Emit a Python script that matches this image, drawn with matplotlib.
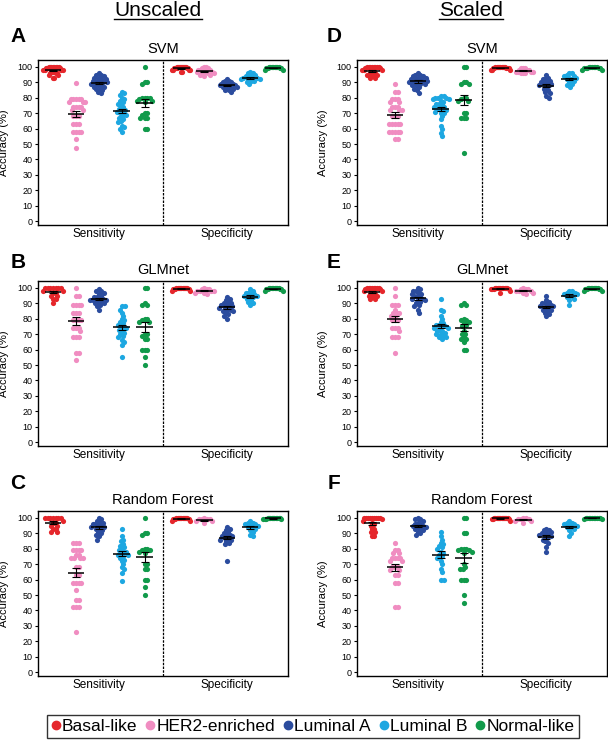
import numpy as np
import matplotlib
matplotlib.use('Agg')
import matplotlib.pyplot as plt
from matplotlib.lines import Line2D

plt.rcParams['font.family'] = ['Liberation Sans', 'DejaVu Sans']

subtypes = ['Basal-like', 'HER2-enriched', 'Luminal A', 'Luminal B', 'Normal-like']
colors = ['#E5262B', '#F08DC1', '#2B4C9E', '#1DA7E1', '#119A4B']
measures = ['Sensitivity', 'Specificity']

# each list: [Basal-like, HER2-enriched, Luminal A, Luminal B, Normal-like], accuracy (%)
svm_unscaled_sens = [
    [100, 100, 100, 100, 100, 100, 100, 100, 99, 99, 99, 98, 98, 98, 98, 97, 97, 97, 96, 96, 96, 95, 95, 93, 93],
    [89.5, 79, 79, 79, 79, 79, 77, 77, 77, 74, 74, 74, 74, 72, 72, 68, 68, 68, 63, 63, 63, 58, 58, 58, 58, 53, 47.5],
    [96, 95, 95, 94, 93, 93, 92, 92, 91, 91, 90, 90, 90, 89, 89, 88, 88, 87, 87, 86, 86, 85, 84, 83],
    [84, 83, 82, 80, 79, 78, 77, 76, 75, 74, 73, 72, 72, 71, 70, 70, 69, 68, 67, 66, 65, 64, 62, 61, 60, 58],
    [100, 90, 90, 89, 80, 80, 80, 80, 79, 78, 78, 77, 70, 70, 69, 67, 67, 67, 60, 60],
]
svm_unscaled_spec = [
    [100, 100, 100, 100, 100, 100, 100, 100, 100, 100, 99, 99, 99, 99, 99, 99, 98, 98, 98, 98, 97, 97],
    [100, 100, 99, 99, 98, 98, 98, 97, 97, 97, 97, 96, 96, 96, 95, 95, 94],
    [92, 91, 91, 90, 90, 89, 89, 89, 88, 88, 88, 88, 87, 87, 87, 86, 86, 85, 85, 84],
    [97, 96, 96, 95, 94, 94, 93, 93, 93, 92, 92, 92, 91, 91, 90, 89],
    [100, 100, 100, 100, 100, 100, 100, 100, 99, 99, 99, 99, 98, 98],
]
svm_scaled_sens = [
    [100, 100, 100, 100, 100, 100, 100, 100, 99, 99, 98, 98, 98, 97, 97, 96, 96, 95, 95, 95, 94, 94, 93, 93],
    [89, 84, 84, 79, 79, 79, 77, 77, 74, 74, 74, 72, 72, 72, 68, 68, 68, 63, 63, 63, 63, 63, 58, 58, 58, 58, 58, 53, 53],
    [96, 95, 95, 94, 94, 93, 93, 92, 92, 92, 91, 91, 90, 90, 90, 89, 89, 88, 88, 87, 86, 85, 83],
    [81, 81, 80, 80, 80, 79, 79, 78, 77, 76, 76, 75, 74, 74, 73, 73, 72, 72, 71, 70, 70, 68, 66, 62, 60, 57, 55],
    [100, 100, 90, 90, 89, 89, 80, 80, 79, 78, 78, 70, 70, 67, 67, 67, 44],
]
svm_scaled_spec = [
    [100, 100, 100, 100, 100, 100, 100, 100, 100, 99, 99, 99, 99, 99, 98, 98, 98],
    [99, 99, 99, 98, 98, 98, 97, 97, 97, 97, 96, 96, 96],
    [95, 93, 92, 92, 91, 90, 90, 89, 89, 88, 88, 87, 86, 85, 84, 83, 81, 80],
    [96, 96, 95, 94, 94, 93, 93, 92, 92, 91, 90, 89, 88, 87],
    [100, 100, 100, 100, 100, 100, 99, 99, 99, 99, 99, 98, 98],
]
glm_unscaled_sens = [
    [100, 100, 100, 100, 100, 100, 100, 98, 98, 97, 97, 95, 95, 93, 93, 90],
    [100, 95, 95, 89, 89, 89, 89, 84, 84, 84, 79, 79, 79, 79, 74, 74, 74, 72, 68, 68, 68, 58, 58, 53],
    [99, 98, 98, 97, 96, 95, 94, 94, 93, 93, 92, 92, 92, 91, 91, 90, 90, 89, 88, 86],
    [88, 88, 86, 84, 82, 80, 79, 78, 77, 76, 75, 74, 74, 73, 72, 71, 70, 69, 68, 66, 65, 63, 55],
    [100, 100, 90, 89, 89, 80, 80, 79, 78, 78, 70, 70, 69, 67, 67, 60, 60, 60, 55, 50],
]
glm_unscaled_spec = [
    [100, 100, 100, 100, 100, 100, 100, 100, 100, 100, 99, 99, 99, 99, 98, 98],
    [100, 99, 99, 99, 98, 98, 98, 98, 97, 97, 96],
    [94, 93, 92, 91, 90, 90, 89, 89, 88, 88, 87, 87, 86, 86, 85, 85, 84, 83, 82, 80],
    [99, 98, 97, 97, 96, 96, 95, 95, 94, 94, 93, 92, 91, 90, 89],
    [100, 100, 100, 100, 100, 100, 100, 100, 99, 99, 99, 99, 98, 98],
]
glm_scaled_sens = [
    [100, 100, 100, 100, 100, 100, 100, 100, 99, 99, 98, 98, 97, 97, 96, 96, 95, 95, 94, 94, 93, 93],
    [100, 95, 89, 89, 89, 86, 84, 84, 84, 82, 82, 79, 79, 79, 74, 74, 74, 72, 68, 68, 68, 58],
    [100, 99, 98, 98, 97, 96, 96, 95, 95, 94, 93, 93, 92, 92, 91, 90, 89, 88, 86, 84],
    [93, 86, 85, 82, 80, 78, 77, 76, 76, 75, 75, 74, 74, 73, 72, 72, 71, 70, 70, 69, 68, 68, 67],
    [90, 89, 89, 80, 79, 79, 78, 77, 76, 75, 72, 70, 70, 68, 67, 67, 65, 60, 60],
]
glm_scaled_spec = [
    [100, 100, 100, 100, 100, 100, 100, 100, 100, 100, 99, 99, 99, 99, 98, 97],
    [100, 99, 99, 99, 98, 98, 98, 97, 97, 96],
    [95, 92, 91, 90, 90, 89, 89, 88, 88, 87, 87, 86, 86, 85, 84, 83, 82],
    [98, 98, 97, 97, 96, 96, 95, 95, 94, 93, 92, 89],
    [100, 100, 100, 100, 100, 100, 100, 100, 99, 99, 99, 99, 98, 98],
]
rf_unscaled_sens = [
    [100, 100, 100, 100, 100, 100, 100, 98, 97, 97, 95, 95, 93, 93, 91, 91],
    [84, 84, 84, 79, 79, 79, 79, 76, 76, 74, 74, 74, 74, 68, 68, 63, 63, 58, 58, 58, 58, 53, 47, 47, 42, 42, 42, 26],
    [100, 99, 98, 97, 97, 96, 96, 95, 95, 94, 94, 93, 93, 92, 91, 90, 89, 88, 86],
    [93, 88, 86, 85, 83, 82, 81, 80, 79, 78, 78, 77, 76, 76, 75, 74, 73, 72, 70, 68, 67, 64, 59],
    [100, 90, 90, 89, 80, 80, 79, 79, 78, 77, 70, 70, 67, 67, 60, 60, 55, 50],
]
rf_unscaled_spec = [
    [100, 100, 100, 100, 100, 100, 100, 100, 100, 100, 99, 99, 99, 99, 98, 98],
    [100, 99, 99, 99, 99, 98, 98, 97],
    [94, 93, 92, 91, 90, 89, 89, 88, 88, 87, 87, 86, 86, 85, 84, 83, 72],
    [98, 97, 97, 96, 96, 95, 95, 94, 94, 93, 92, 91, 89, 88],
    [100, 100, 100, 100, 100, 100, 100, 100, 100, 100, 99, 99, 99, 99],
]
rf_scaled_sens = [
    [100, 100, 100, 100, 100, 100, 100, 100, 100, 99, 98, 97, 96, 95, 93, 93, 91, 91, 88, 88],
    [84, 79, 79, 77, 77, 74, 74, 74, 74, 72, 72, 68, 68, 68, 66, 66, 63, 63, 58, 58, 42, 42],
    [100, 99, 99, 98, 97, 96, 96, 95, 95, 94, 94, 93, 93, 92, 91, 90, 89],
    [91, 88, 86, 84, 83, 82, 81, 80, 78, 77, 76, 75, 74, 72, 70, 67, 65, 60, 60],
    [100, 100, 90, 90, 80, 80, 80, 79, 79, 78, 77, 70, 68, 67, 67, 60, 60, 60, 50, 45],
]
rf_scaled_spec = [
    [100, 100, 100, 100, 100, 100, 100, 100, 100, 100, 100, 100, 99, 99, 99, 98],
    [100, 100, 99, 99, 99, 98, 98, 97],
    [93, 92, 92, 91, 90, 90, 89, 89, 88, 88, 87, 86, 85, 84, 81, 78],
    [98, 97, 97, 96, 96, 95, 95, 94, 94, 93, 92, 90, 88],
    [100, 100, 100, 100, 100, 100, 100, 100, 100, 100, 99.5, 99.5],
]

panels = [
    ('A', 'SVM', svm_unscaled_sens, svm_unscaled_spec),
    ('B', 'GLMnet', glm_unscaled_sens, glm_unscaled_spec),
    ('C', 'Random Forest', rf_unscaled_sens, rf_unscaled_spec),
    ('D', 'SVM', svm_scaled_sens, svm_scaled_spec),
    ('E', 'GLMnet', glm_scaled_sens, glm_scaled_spec),
    ('F', 'Random Forest', rf_scaled_sens, rf_scaled_spec),
]

W, H = 608, 741
XLIM = (0.35, 11.25)
YLIM = (-2.5, 104.5)
AX_W, AX_H = 250, 165
PPX = AX_W / (XLIM[1] - XLIM[0])
PPY = AX_H / (YLIM[1] - YLIM[0])
sens_pos = np.array([1, 2, 3, 4, 5])
spec_pos = sens_pos + 5.6


def swarm(vals, d=3.9, squeeze=0.72, cap=0.42):
    # beeswarm offsets (data units along x); points are allowed to overlap sideways
    ys = np.asarray(vals, float) * PPY
    xs = np.zeros(len(ys))
    placed = []
    for i in np.argsort(-ys, kind='stable'):
        y = ys[i]
        cand = [0.0]
        for px, py in placed:
            dy = y - py
            if abs(dy) < d:
                dx = np.sqrt(d * d - dy * dy)
                cand += [px + dx, px - dx]
        cand.sort(key=abs)
        for c in cand:
            if all((c - px) ** 2 + (y - py) ** 2 >= d * d - 1e-6 for px, py in placed):
                xs[i] = c
                break
        placed.append((xs[i], y))
    xs = xs * squeeze / PPX
    widest = np.abs(xs).max()
    if widest > cap:
        xs *= cap / widest
    return xs


fig = plt.figure(figsize=(W / 100, H / 100), dpi=100)

col_left = [38, 357]
row_top = [60, 281, 511]
letter_y = [37, 262, 483]

for k, (letter, title, sens, spec) in enumerate(panels):
    c, r = k // 3, k % 3
    ax = fig.add_axes([col_left[c] / W, 1 - (row_top[r] + AX_H) / H, AX_W / W, AX_H / H])
    for pos, data in ((sens_pos, sens), (spec_pos, spec)):
        for x, vals, col in zip(pos, data, colors):
            vals = np.asarray(vals, float)
            ax.scatter(x + swarm(vals), vals, s=14, color=col, linewidths=0, zorder=2)
            m = vals.mean()
            sem = vals.std(ddof=1) / np.sqrt(len(vals))
            ax.hlines(m, x - 0.36, x + 0.36, color='black', lw=1.1, zorder=3)
            ax.errorbar(x, m, yerr=sem, fmt='none', ecolor='black', elinewidth=0.8,
                        capsize=2.8, capthick=0.8, zorder=3)
    ax.axvline((sens_pos[-1] + spec_pos[0]) / 2, color='black', lw=0.9, ls=(0, (2, 1)))
    ax.set_xlim(XLIM)
    ax.set_ylim(YLIM)
    ax.set_yticks(range(0, 101, 10))
    ax.set_xticks([sens_pos.mean(), spec_pos.mean()])
    ax.set_xticklabels(measures, fontsize=8.5)
    ax.tick_params(axis='x', length=0, pad=2)
    ax.tick_params(axis='y', labelsize=6.5, length=2.5, width=0.8, pad=1.5)
    for sp in ax.spines.values():
        sp.set_linewidth(1.0)
    ax.set_title(title, fontsize=10.5, pad=5)
    ax.text(-0.134, 0.5, 'Accuracy (%)', transform=ax.transAxes, rotation=90,
            ha='center', va='center', fontsize=8)
    lx = [18, 334][c]
    fig.text(lx / W, 1 - letter_y[r] / H, letter, fontsize=15, fontweight='bold',
             ha='center', va='center')

heads = []
for name, xc in (('Unscaled', 158), ('Scaled', 471)):
    heads.append(fig.text(xc / W, 1 - 10 / H, name, fontsize=15, ha='center', va='center'))

handles = [Line2D([], [], ls='none', marker='o', markersize=6, color=col, label=lab)
           for col, lab in zip(colors, subtypes)]
leg = fig.legend(handles=handles, loc='center', bbox_to_anchor=(313 / W, 1 - 726.5 / H),
                 ncol=5, fontsize=12.5, frameon=True, fancybox=False, edgecolor='black',
                 handlelength=0.5, handletextpad=0.1, columnspacing=0.5, borderpad=0.25,
                 borderaxespad=0)
leg.get_frame().set_linewidth(1.0)

# underline the column headings
fig.canvas.draw()
rend = fig.canvas.get_renderer()
for t in heads:
    bb = t.get_window_extent(rend).transformed(fig.transFigure.inverted())
    fig.add_artist(Line2D([bb.x0, bb.x1], [bb.y0 + 0.001, bb.y0 + 0.001], color='black', lw=1.0,
                          transform=fig.transFigure))

fig.savefig('out.png', dpi=100)
